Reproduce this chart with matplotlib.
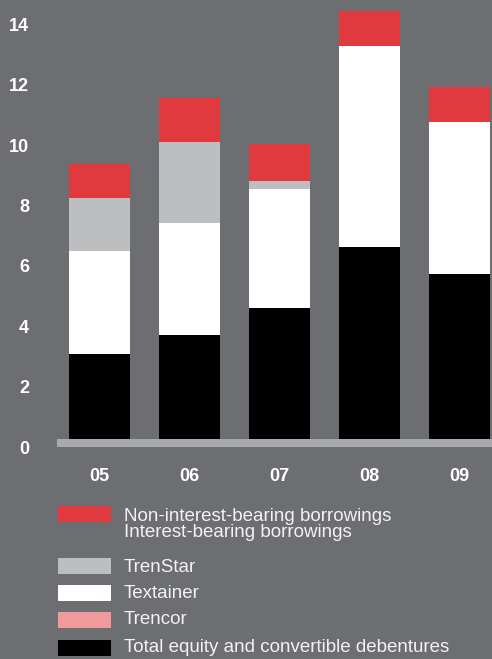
import matplotlib
matplotlib.use("Agg")
import matplotlib.pyplot as plt
from matplotlib.patches import Rectangle
import matplotlib.transforms as mtransforms
import numpy as np

plt.rcParams['font.family'] = ['Liberation Sans', 'DejaVu Sans']

years = ["05", "06", "07", "08", "09"]
equity = [2.81, 3.44, 4.34, 6.36, 5.46]
trencor = [0.0, 0.0, 0.0, 0.0, 0.0]
textainer = [3.42, 3.72, 3.94, 6.65, 5.04]
trenstar = [1.75, 2.67, 0.26, 0.0, 0.0]
borrowings = [1.13, 1.46, 1.23, 1.15, 1.15]
yticks = [0, 2, 4, 6, 8, 10, 12, 14]

legend_labels = ["Non-interest-bearing borrowings\nInterest-bearing borrowings",
                 "TrenStar", "Textainer", "Trencor",
                 "Total equity and convertible debentures"]

BG = "#6d6e72"
RED = "#e03a3e"
LGRAY = "#bcbec0"
WHITE = "#ffffff"
PINK = "#f09a9c"
BLACK = "#000000"
AXIS = "#a7a9ac"

W, H = 492, 659
fig = plt.figure(figsize=(W / 100, H / 100), dpi=100, facecolor=BG)

pxu = 30.2  # pixels per unit
zero_px = 439
ax_left = 57
ax = fig.add_axes([ax_left / W, (H - 447) / H, (W - ax_left) / W, 447 / H])
ax.set_facecolor(BG)
ax.set_xlim(-0.472, (W - 99.5) / 90)
ax.set_ylim(-8 / pxu, zero_px / pxu)

x = np.arange(len(years))
width = 61 / 90
series = [(equity, BLACK), (trencor, PINK), (textainer, WHITE),
          (trenstar, LGRAY), (borrowings, RED)]
bottom = np.zeros(len(years))
for vals, col in series:
    ax.bar(x, vals, width, bottom=bottom, color=col, linewidth=0, zorder=2)
    bottom += np.array(vals)

ax.axhspan(-8 / pxu, 0, color=AXIS, linewidth=0, zorder=3)

for s in ax.spines.values():
    s.set_visible(False)
ax.tick_params(length=0)
ax.set_yticks(yticks)
ax.set_yticklabels([str(t) for t in yticks], fontsize=13, fontweight='bold', color='white')
ax.tick_params(axis='y', pad=20)
off = mtransforms.ScaledTranslation(0, -8 / 100, fig.dpi_scale_trans)
for lab in ax.get_yticklabels():
    lab.set_transform(lab.get_transform() + off)
ax.set_xticks(x)
ax.set_xticklabels(years, fontsize=13, fontweight='bold', color='white')
ax.tick_params(axis='x', pad=15)

# legend
patch_colors = [RED, LGRAY, WHITE, PINK, BLACK]
patch_tops = [506, 558, 585, 612, 640]
text_centers = [524.5, 567, 593, 620, 648]
for col, top, tc, lab in zip(patch_colors, patch_tops, text_centers, legend_labels):
    fig.patches.append(Rectangle((58 / W, (H - top - 16) / H), 53 / W, 16 / H,
                                 transform=fig.transFigure, facecolor=col,
                                 edgecolor='none'))
    fig.text(124 / W, (H - tc) / H, lab, fontsize=13.5, color='#f2f2f2',
             va='center', ha='left', linespacing=0.9)

fig.savefig("out.png", dpi=100, facecolor=BG)
